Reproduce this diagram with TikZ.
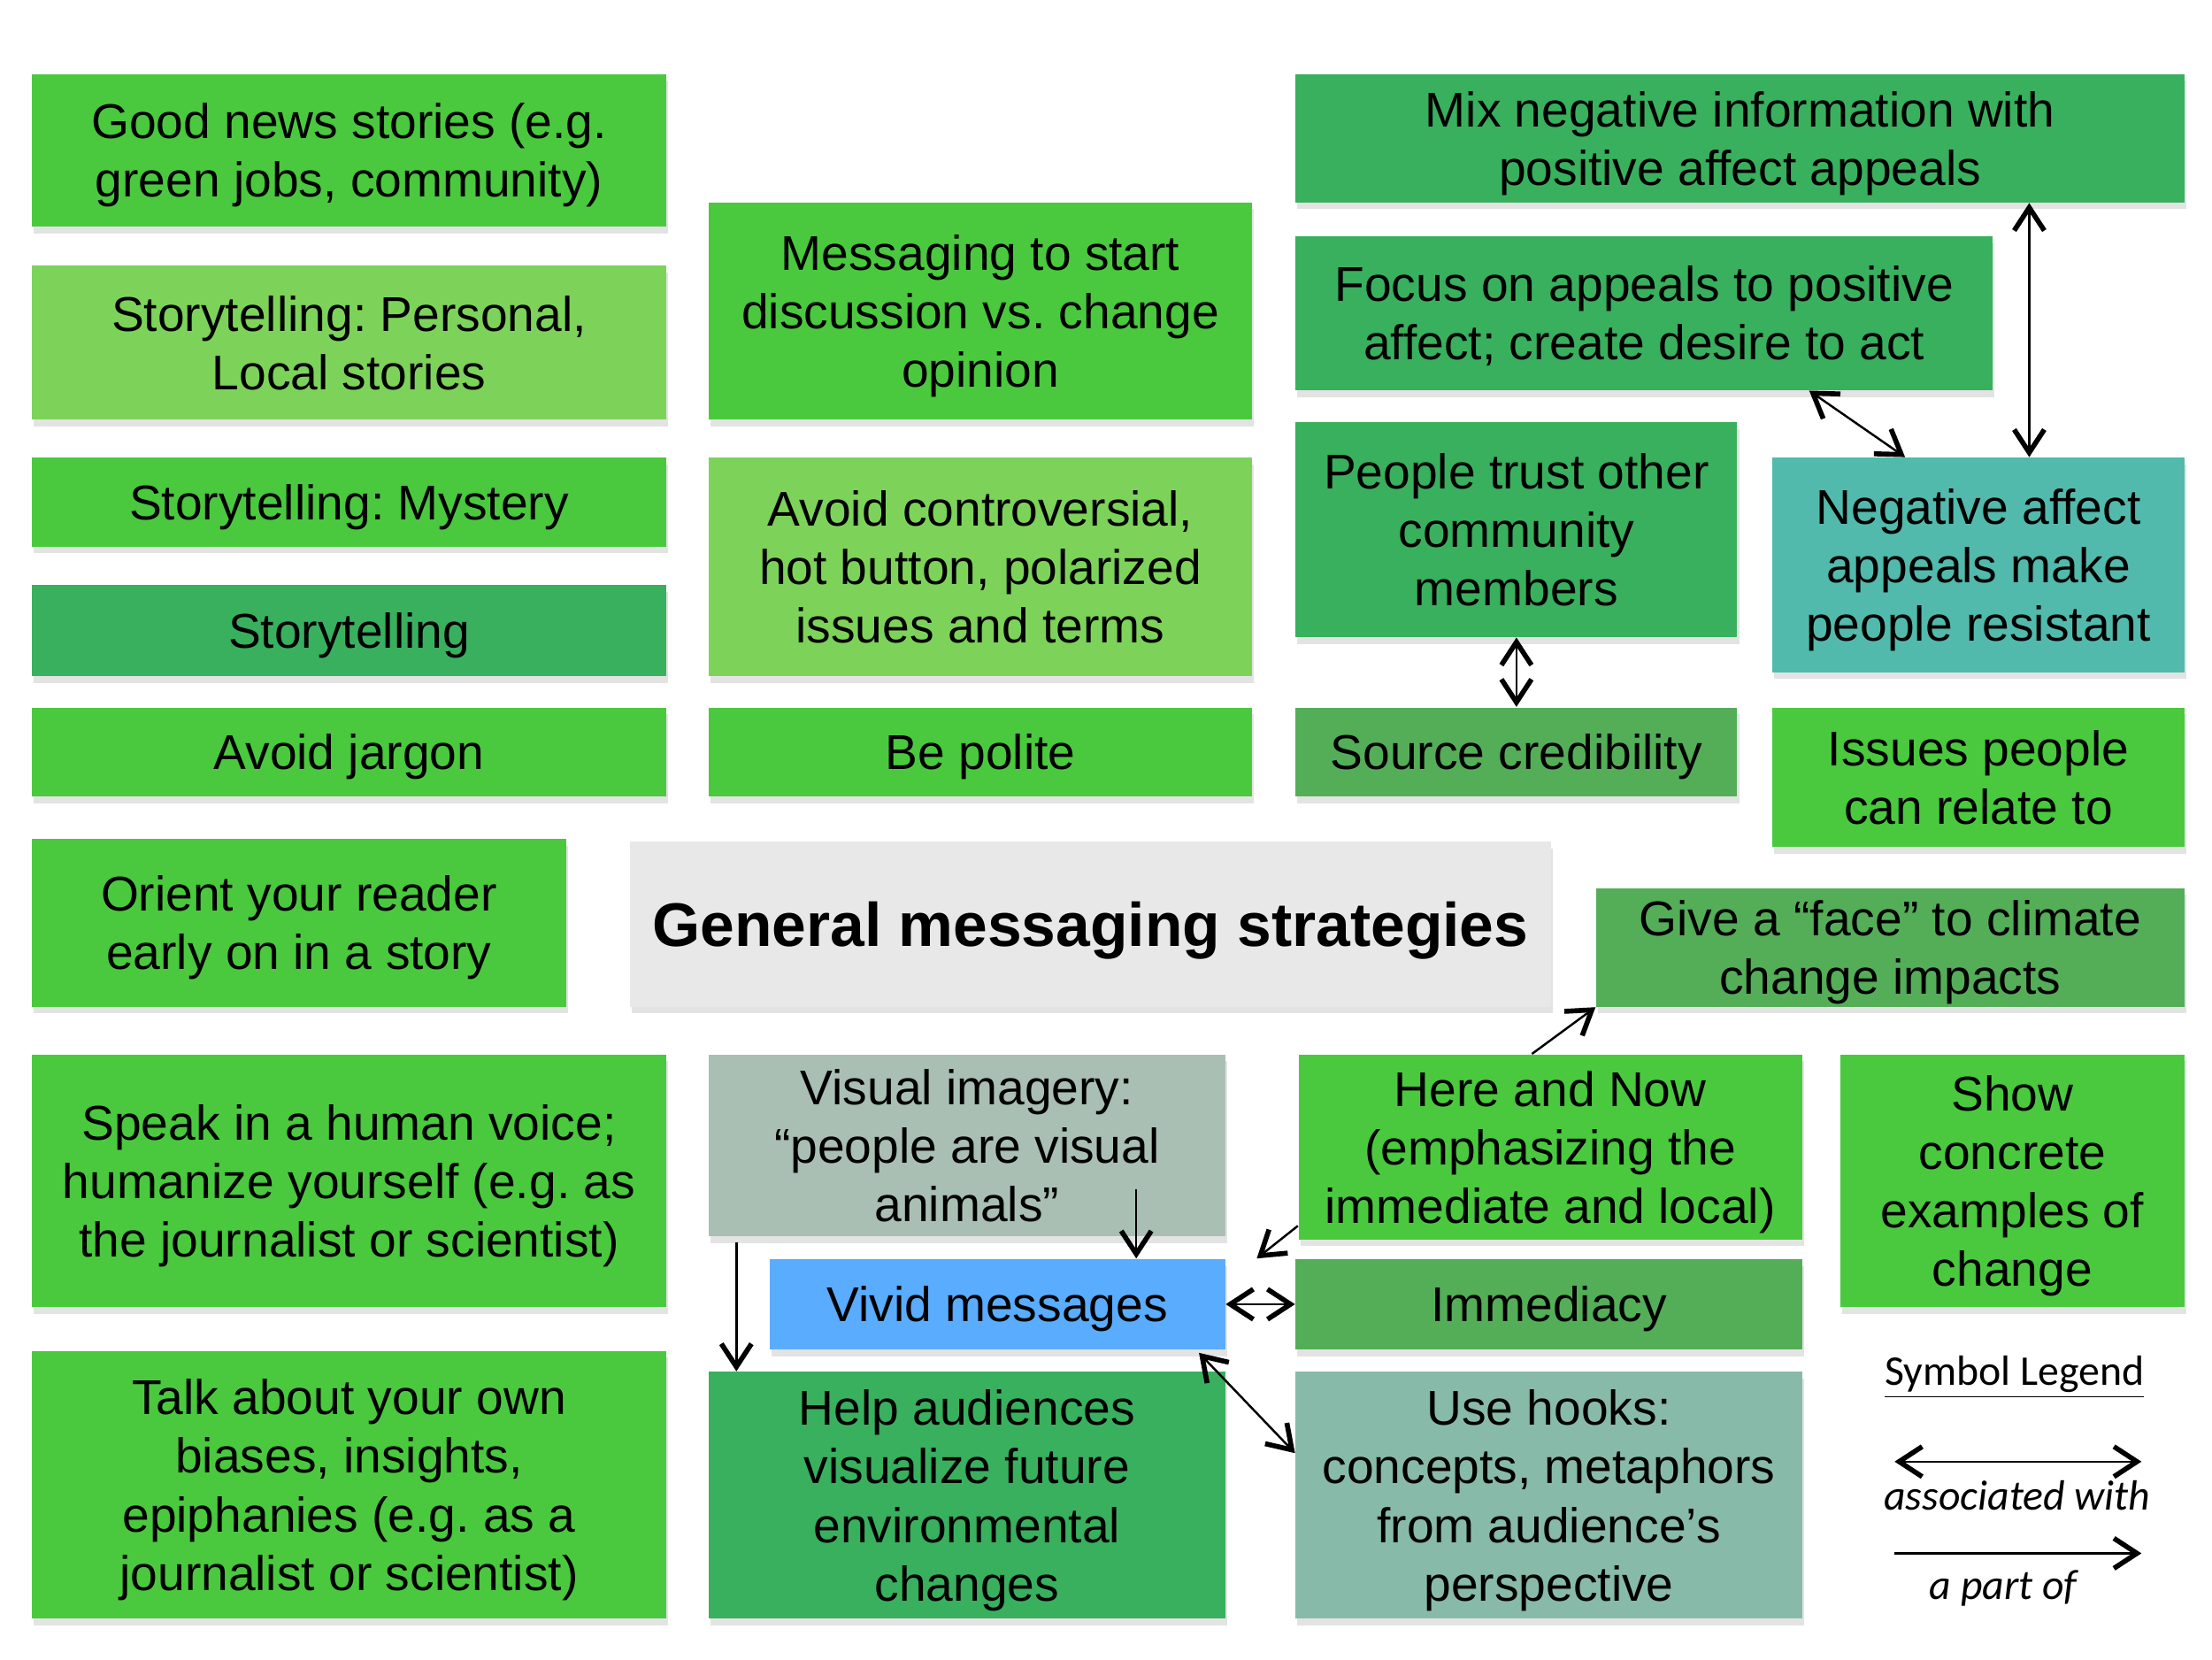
\documentclass[tikz,border=0pt]{standalone}
\usepackage{fontspec}
\setmainfont{Liberation Sans}
\newfontfamily\legendfont{Carlito}
\frenchspacing
\usetikzlibrary{arrows.meta,calc,shadows}

\definecolor{gbright}{RGB}{74,201,62}
\definecolor{glight}{RGB}{125,211,90}
\definecolor{gmid}{RGB}{57,176,94}
\definecolor{gmuted}{RGB}{84,174,88}
\definecolor{tealbox}{RGB}{82,186,172}
\definecolor{hookbox}{RGB}{136,186,170}
\definecolor{visbox}{RGB}{169,191,179}
\definecolor{vividbox}{RGB}{90,172,255}
\definecolor{titlebox}{RGB}{232,232,232}

\tikzset{
barb/.tip={Straight Barb[length=2.6mm,width=3.4mm,line width=1.6pt]},
wh/.style 2 args={minimum width=#1*0.015944cm,minimum height=#2*0.015944cm},
box/.style={rectangle,anchor=north west,inner sep=0pt,align=center,
  text depth=-1pt,
  font=\fontsize{15.7}{18.8}\selectfont,
  drop shadow={shadow xshift=0.6pt,shadow yshift=-2.2pt,opacity=0.22}},
assoc/.style={line width=0.7pt,{barb}-{barb}},
partof/.style={line width=0.7pt,-{barb}},
}

\begin{document}
\begin{tikzpicture}[%
x={(0.015944cm,0cm)},
y={(0cm,-0.015944cm)},
]

\useasboundingbox (0,0) rectangle (1568,1176);

%left column
\node[box,fill=gbright,wh={450}{108}](goodnews) at (22,52){Good news stories (e.g.\\green jobs, community)};
\node[box,fill=glight,wh={450}{109}](personal) at (22,188){Storytelling: Personal,\\Local stories};
\node[box,fill=gbright,wh={450}{63}](mystery) at (22,324){Storytelling: Mystery};
\node[box,fill=gmid,wh={450}{65}](story) at (22,414){Storytelling};
\node[box,fill=gbright,wh={450}{63}](jargon) at (22,501){Avoid jargon};
\node[box,fill=gbright,wh={379}{119}](orient) at (22,594){Orient your reader\\early on in a story};
\node[box,fill=gbright,wh={450}{179}](voice) at (22,747){Speak in a human voice;\\humanize yourself (e.g. as\\the journalist or scientist)};
\node[box,fill=gbright,wh={450}{190}](biases) at (22,957){Talk about your own\\biases, insights,\\epiphanies (e.g. as a\\journalist or scientist)};

%middle column
\node[box,fill=gbright,wh={385}{154}](discuss) at (502,143){Messaging to start\\discussion vs. change\\opinion};
\node[box,fill=glight,wh={385}{155}](controv) at (502,324){Avoid controversial,\\hot button, polarized\\issues and terms};
\node[box,fill=gbright,wh={385}{63}](polite) at (502,501){Be polite};
\node[box,fill=titlebox,wh={653}{117},font=\fontsize{19.8}{23}\selectfont\bfseries](title) at (446,596){General messaging strategies};

%right part
\node[box,fill=gmid,wh={630}{91}](mix) at (918,52){Mix negative information with\\positive affect appeals};
\node[box,fill=gmid,wh={494}{109}](focus) at (918,167){Focus on appeals to positive\\affect; create desire to act};
\node[box,fill=gmid,wh={313}{152}](trust) at (918,299){People trust other\\community\\members};
\node[box,fill=tealbox,wh={292}{152}](neg) at (1256,324){Negative affect\\appeals make\\people resistant};
\node[box,fill=gmuted,wh={313}{63}](cred) at (918,501){Source credibility};
\node[box,fill=gbright,wh={292}{99}](relate) at (1256,501){Issues people\\can relate to};
\node[box,fill=gmuted,wh={417}{84}](face) at (1131,629){Give a “face” to climate\\change impacts};

%bottom part
\node[box,fill=visbox,wh={366}{129}](visual) at (502,747){Visual imagery:\\“people are visual\\animals”};
\node[box,fill=vividbox,wh={323}{64}](vivid) at (545,892){Vivid messages};
\node[box,fill=gmid,wh={366}{175}](future) at (502,972){Help audiences\\visualize future\\environmental\\changes};
\node[box,fill=gbright,wh={357}{131}](here) at (920,747){Here and Now\\(emphasizing the\\immediate and local)};
\node[box,fill=gmuted,wh={359}{64}](immed) at (918,892){Immediacy};
\node[box,fill=hookbox,wh={359}{175}](hooks) at (918,972){Use hooks:\\concepts, metaphors\\from audience’s\\perspective};
\node[box,fill=gbright,wh={244}{179}](concrete) at (1304,747){Show\\concrete\\examples of\\change};

%Pfeile
\draw[assoc] ($(mix.south)+(205,0)$) -- ($(neg.north)+(36,0)$);
\draw[assoc] ($(focus.south)+(117,0)$) -- ($(neg.north)+(-52,0)$);
\draw[assoc] (trust.south) -- (cred.north);
\draw[partof] ($(here.north)+(-13,0)$) -- (face.south west);
\draw[partof] ($(here.south west)+(0,-10)$) -- ($(vivid.north east)+(22,0)$);
\draw[assoc] (vivid.east) -- (immed.west);
\draw[assoc] ($(vivid.south east)+(-19,2)$) -- ($(hooks.north west)+(0,58)$);
\coordinate (vtip) at ($(vivid.north)+(98.5,0)$);
\draw[partof] ($(vtip |- visual.south)+(0,-34)$) -- (vtip);
\draw[partof] ($(visual.south west)+(20,4)$) -- ($(future.north west)+(20,0)$);

%Legende
\node[font=\legendfont\fontsize{13.6}{16}\selectfont](legtitle) at (1428,976){\underline{Symbol Legend}};
\coordinate (la) at (1343,1036);
\coordinate (lb) at (1518,1036);
\coordinate (pa) at (1343,1101);
\coordinate (pb) at (1518,1101);
\draw[assoc] (la) -- (lb);
\draw[partof] (pa) -- (pb);
\node[font=\legendfont\itshape\fontsize{13.6}{16}\selectfont](legassoc) at (1430,1060){associated with};
\node[font=\legendfont\itshape\fontsize{13.6}{16}\selectfont](legpart) at (1420,1126){a part of};

\end{tikzpicture}
\end{document}
